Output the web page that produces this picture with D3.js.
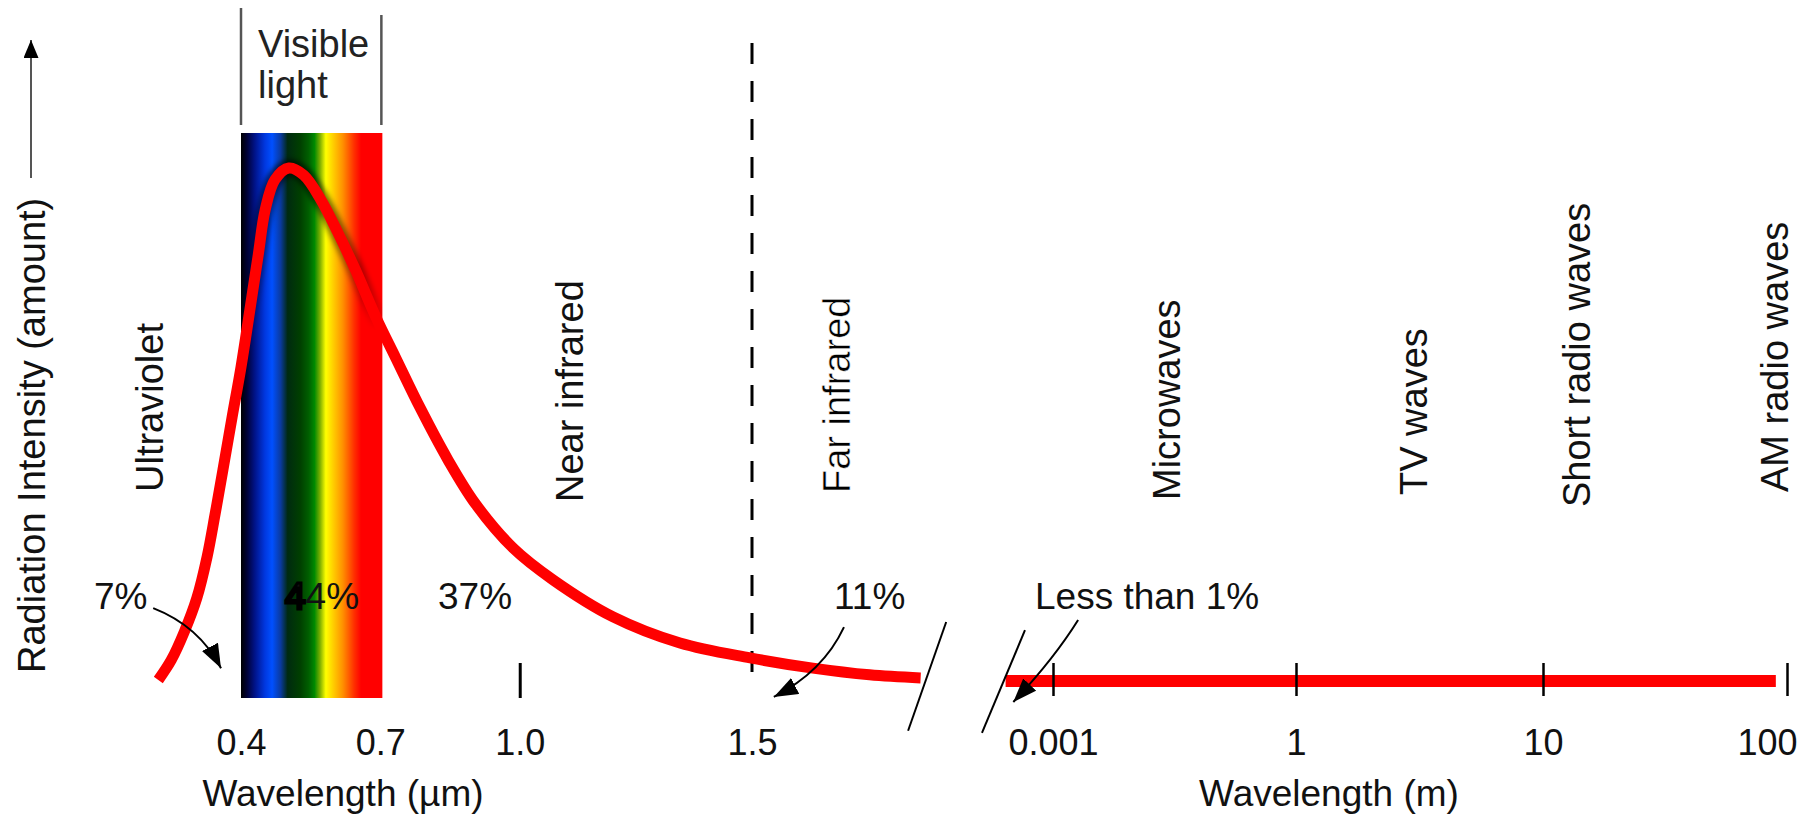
<!DOCTYPE html>
<html>
<head>
<meta charset="utf-8">
<script src="https://cdn.jsdelivr.net/npm/d3@7"></script>
<style>
  body { margin: 0; background: #fff; }
  svg { display: block; font-family: "Liberation Sans", Arial, Helvetica, sans-serif; }
</style>
</head>
<body>
<svg id="drawing_region"></svg>
<script>
// solar spectrum, left of the break: wavelength in micrometres, relative intensity
var CurveMicrons = [0.222, 0.25, 0.278, 0.305, 0.327, 0.344, 0.361, 0.381, 0.40, 0.419, 0.437,
    0.452, 0.473, 0.503, 0.535, 0.572, 0.608, 0.647, 0.69, 0.733, 0.787, 0.845, 0.905,
    0.986, 1.072, 1.201, 1.345, 1.496, 1.631, 1.753, 1.863];
var CurveIntensity = [0.2, 4.1, 9.6, 16.2, 24.2, 32.4, 41.1, 51.5, 61.2, 72.3, 83.0,
    91.8, 97.7, 100, 98.6, 93.8, 87.5, 80.0, 71.0, 63.0, 53.0, 43.2, 34.5,
    25.9, 19.7, 12.5, 7.4, 4.5, 2.5, 1.2, 0.6];

// right of the break: wavelength in metres
var TailMeters = [0.00026, 90];
var TailIntensity = [0, 0];

var VisibleRange = [0.4, 0.7];
var FarInfraredStart = 1.5;
var MicronTicks = [0.4, 0.7, 1.0, 1.5];
var MicronTickMarks = [1.0];
var MeterTicks = [0.001, 1, 10, 100];
var MeterTickLabels = ['0.001', '1', '10', '100'];

var RegionNames = ['Ultraviolet', 'Near infrared', 'Far infrared', 'Microwaves',
    'TV waves', 'Short radio waves', 'AM radio waves'];
var ShareLabels = ['7%', '44%', '37%', '11%', 'Less than 1%'];

var SpectrumStops = [
    [0, '#000000'], [0.04, '#000033'], [0.1, '#00148c'], [0.17, '#0038e0'],
    [0.22, '#0050ff'], [0.28, '#0a3aa0'], [0.33, '#002a10'], [0.42, '#004000'],
    [0.48, '#006000'], [0.52, '#008a00'], [0.56, '#80b000'], [0.6, '#ffff00'],
    [0.65, '#ffd000'], [0.72, '#ff9000'], [0.8, '#ff3000'], [0.85, '#ff0000'], [1, '#ff0000']
];

var Config = {
    parent: '#drawing_region',
    width: 1815,
    height: 824
};

class SpectrumChart {
    constructor(config) {
        this.config = config;
        this.init();
    }

    init() {
        let self = this;
        self.svg = d3.select(self.config.parent)
            .attr('width', self.config.width)
            .attr('height', self.config.height);

        // broken x axis: linear micrometres on the left, evenly spaced decades (metres) on the right
        self.xmicron = d3.scaleLinear().domain([0.4, 1.5]).range([241, 752]);
        self.xdecade = d3.scaleLinear().domain([-3, 0, 1, 2]).range([1053, 1296, 1543, 1787]);
        self.xmeter = d => self.xdecade(Math.log10(d));
        self.yscale = d3.scaleLinear().domain([0, 100]).range([681, 168]);

        let defs = self.svg.append('defs');
        let grad = defs.append('linearGradient').attr('id', 'spectrum');
        grad.selectAll('stop').data(SpectrumStops).join('stop')
            .attr('offset', d => d[0])
            .attr('stop-color', d => d[1]);

        defs.append('marker')
            .attr('id', 'head')
            .attr('markerUnits', 'userSpaceOnUse')
            .attr('markerWidth', 26).attr('markerHeight', 20)
            .attr('refX', 24).attr('refY', 9)
            .attr('orient', 'auto')
            .append('path').attr('d', 'M0,0L24,9L0,18Z').attr('fill', '#000');

        defs.append('marker')
            .attr('id', 'yhead')
            .attr('markerUnits', 'userSpaceOnUse')
            .attr('markerWidth', 20).attr('markerHeight', 16)
            .attr('refX', 18).attr('refY', 7.5)
            .attr('orient', 'auto')
            .append('path').attr('d', 'M0,0L18,7.5L0,15Z').attr('fill', '#000');

        defs.append('filter').attr('id', 'soft')
            .append('feGaussianBlur').attr('stdDeviation', 2.5);

        // dark halo round the peak, fading out further down the band
        let fade = defs.append('linearGradient').attr('id', 'fade')
            .attr('gradientUnits', 'userSpaceOnUse')
            .attr('x1', 0).attr('x2', 0).attr('y1', 150).attr('y2', 330);
        fade.append('stop').attr('offset', 0).attr('stop-color', '#fff');
        fade.append('stop').attr('offset', 0.45).attr('stop-color', '#fff').attr('stop-opacity', 0.7);
        fade.append('stop').attr('offset', 1).attr('stop-color', '#000');

        defs.append('mask').attr('id', 'bandmask')
            .attr('maskUnits', 'userSpaceOnUse')
            .attr('x', 0).attr('y', 0).attr('width', 1815).attr('height', 824)
            .append('rect')
            .attr('x', self.xmicron(VisibleRange[0]))
            .attr('y', 133)
            .attr('width', self.xmicron(VisibleRange[1]) - self.xmicron(VisibleRange[0]) + 2)
            .attr('height', 565)
            .attr('fill', 'url(#fade)');
    }

    render() {
        let self = this;
        let svg = self.svg;
        let x0 = self.xmicron(VisibleRange[0]);
        let x1 = self.xmicron(VisibleRange[1]) + 2;

        // visible light band and its bracket
        svg.append('rect')
            .attr('x', x0).attr('y', 133)
            .attr('width', x1 - x0).attr('height', 565)
            .attr('fill', 'url(#spectrum)');

        svg.selectAll('.bracket').data([[x0, 8], [x1 - 1, 15]]).join('line')
            .attr('class', 'bracket')
            .attr('x1', d => d[0]).attr('x2', d => d[0])
            .attr('y1', d => d[1]).attr('y2', 125)
            .attr('stroke', '#555').attr('stroke-width', 2.5);

        svg.append('text').attr('x', 258).attr('y', 57)
            .attr('font-size', 38).attr('fill', '#222').text('Visible');
        svg.append('text').attr('x', 258).attr('y', 98)
            .attr('font-size', 38).attr('fill', '#222').text('light');

        // far infrared boundary
        svg.append('line')
            .attr('x1', self.xmicron(FarInfraredStart)).attr('x2', self.xmicron(FarInfraredStart))
            .attr('y1', 43).attr('y2', 688)
            .attr('stroke', '#000').attr('stroke-width', 3)
            .attr('stroke-dasharray', '21,17');

        // intensity curve
        let curve = CurveMicrons.map((m, i) => ({ x: m, y: CurveIntensity[i] }));
        let line = d3.line()
            .x(d => self.xmicron(d.x))
            .y(d => self.yscale(d.y))
            .curve(d3.curveCatmullRom.alpha(0.5));

        svg.append('g').attr('mask', 'url(#bandmask)')
            .append('path')
            .attr('d', line(curve))
            .attr('fill', 'none')
            .attr('stroke', '#000').attr('stroke-width', 17)
            .attr('opacity', 0.65)
            .attr('filter', 'url(#soft)');

        svg.append('path')
            .attr('d', line(curve))
            .attr('fill', 'none')
            .attr('stroke', '#ff0000').attr('stroke-width', 11)
            .attr('stroke-linecap', 'butt');

        let tail = TailMeters.map((m, i) => ({ x: m, y: TailIntensity[i] }));
        svg.append('path')
            .attr('d', d3.line().x(d => self.xmeter(d.x)).y(d => self.yscale(d.y))(tail))
            .attr('fill', 'none')
            .attr('stroke', '#ff0000').attr('stroke-width', 12);

        // axes
        let leftAxis = d3.axisBottom(self.xmicron)
            .tickValues(MicronTicks)
            .tickFormat(d3.format('.1f'))
            .tickSize(35).tickPadding(31);
        let gl = svg.append('g').attr('transform', 'translate(0,663)').call(leftAxis);
        gl.selectAll('.tick line')
            .attr('stroke', '#000').attr('stroke-width', 3)
            .attr('opacity', d => MicronTickMarks.includes(d) ? 1 : 0);

        let rightAxis = d3.axisBottom(self.xdecade)
            .tickValues(MeterTicks.map(Math.log10))
            .tickFormat((d, i) => MeterTickLabels[i])
            .tickSize(33).tickPadding(33);
        let gr = svg.append('g').attr('transform', 'translate(0,663)').call(rightAxis);
        gr.selectAll('.tick line').attr('stroke', '#000').attr('stroke-width', 2.5);
        gr.selectAll('.tick text').attr('dx', (d, i) => i === MeterTicks.length - 1 ? -20 : 0);

        [gl, gr].forEach(g => {
            g.select('.domain').remove();
            g.selectAll('.tick text')
                .attr('font-size', 36)
                .attr('font-family', '"Liberation Sans", Arial, sans-serif')
                .attr('fill', '#111');
        });

        svg.append('text').attr('x', 343).attr('y', 806)
            .attr('text-anchor', 'middle').attr('font-size', 37).attr('fill', '#111')
            .text('Wavelength (\u00b5m)');
        svg.append('text').attr('x', 1329).attr('y', 806)
            .attr('text-anchor', 'middle').attr('font-size', 37).attr('fill', '#111')
            .text('Wavelength (m)');

        // axis break marks
        let brk = [
            [[1.918, 11.5], [1.836, -9.7], 'micron'],
            [[-3.346, 9.9], [-3.877, -10.1], 'decade']
        ];
        svg.selectAll('.brk').data(brk).join('line')
            .attr('class', 'brk')
            .attr('x1', d => d[2] === 'micron' ? self.xmicron(d[0][0]) : self.xdecade(d[0][0]))
            .attr('y1', d => self.yscale(d[0][1]))
            .attr('x2', d => d[2] === 'micron' ? self.xmicron(d[1][0]) : self.xdecade(d[1][0]))
            .attr('y2', d => self.yscale(d[1][1]))
            .attr('stroke', '#000').attr('stroke-width', 2);

        // y axis arrow and title
        svg.append('line')
            .attr('x1', 31).attr('x2', 31).attr('y1', 178).attr('y2', 40)
            .attr('stroke', '#555').attr('stroke-width', 2)
            .attr('marker-end', 'url(#yhead)');
        svg.append('text')
            .attr('transform', 'translate(45,673) rotate(-90)')
            .attr('font-size', 38).attr('fill', '#111')
            .text('Radiation Intensity (amount)');

        // region names, written upward
        let regionPos = [[163, 492], [583, 502], [850, 493], [1180, 500], [1427, 495], [1590, 507], [1788, 492]];
        svg.selectAll('.region').data(RegionNames).join('text')
            .attr('class', 'region')
            .attr('transform', (d, i) => `translate(${regionPos[i][0]},${regionPos[i][1]}) rotate(-90)`)
            .attr('font-size', 38)
            .attr('fill', (d, i) => i === 2 ? '#000' : '#111')
            .attr('stroke', (d, i) => i === 2 ? '#fff' : 'none')
            .attr('stroke-width', 0.5)
            .text(d => d);

        // share of energy in each band
        let shareX = [94, 285, 438, 834, 1035];
        let shares = svg.selectAll('.share').data(ShareLabels).join('text')
            .attr('class', 'share')
            .attr('x', (d, i) => shareX[i]).attr('y', 609)
            .attr('font-size', 37).attr('fill', '#111');
        shares.each(function (d, i) {
            let t = d3.select(this);
            if (i === 1) {
                // the first digit is printed heavy in the source
                t.append('tspan').attr('stroke', '#000').attr('stroke-width', 3).text(d.slice(0, 1));
                t.append('tspan').text(d.slice(1));
            } else {
                t.text(d);
            }
        });

        // pointer arrows
        let pointers = [
            { s: [0.211, 14.2], c: [0.310, 10.7], e: [0.357, 2.5], sx: 'micron' },
            { s: [1.698, 10.5], c: [1.653, 1.8], e: [1.547, -3.1], sx: 'micron' },
            { s: [-2.69, 11.9], c: [-2.99, 4.3], e: [-3.49, -4.1], sx: 'decade' }
        ];
        svg.selectAll('.pointer').data(pointers).join('path')
            .attr('class', 'pointer')
            .attr('d', d => {
                let fx = d.sx === 'micron' ? self.xmicron : self.xdecade;
                let p = d3.path();
                p.moveTo(fx(d.s[0]), self.yscale(d.s[1]));
                p.quadraticCurveTo(fx(d.c[0]), self.yscale(d.c[1]), fx(d.e[0]), self.yscale(d.e[1]));
                return p.toString();
            })
            .attr('fill', 'none')
            .attr('stroke', '#000').attr('stroke-width', 2)
            .attr('marker-end', 'url(#head)');
    }
}

const chart = new SpectrumChart(Config);
chart.render();
</script>
</body>
</html>
